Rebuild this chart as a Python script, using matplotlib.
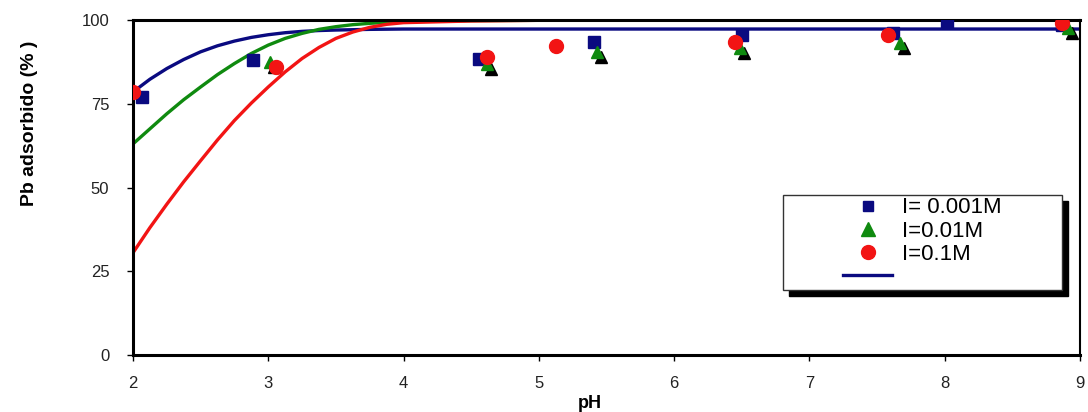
import matplotlib.pyplot as plt
import matplotlib.transforms as mtransforms
from matplotlib.patches import Rectangle
from matplotlib.lines import Line2D

## Data

# fitted curves
ph_fit = [2.0, 2.125, 2.25, 2.375, 2.5, 2.625, 2.75, 2.875, 3.0, 3.125, 3.25, 3.375,
          3.5, 3.625, 3.75, 3.875, 4.0, 4.5, 5.0, 6.0, 7.0, 8.0, 9.0]
fit_0001 = [78.5, 82.3, 85.5, 88.2, 90.5, 92.3, 93.7, 94.8, 95.6, 96.2, 96.6, 96.85,
            97.0, 97.1, 97.2, 97.25, 97.3, 97.3, 97.3, 97.3, 97.3, 97.3, 97.3]
fit_001 = [63.0, 67.5, 72.0, 76.2, 80.0, 83.7, 87.0, 90.0, 92.5, 94.5, 96.0, 97.2,
           98.0, 98.6, 99.0, 99.3, 99.5, 99.8, 99.9, 99.9, 99.9, 99.9, 99.9]
fit_01 = [30.5, 38.0, 45.0, 51.7, 58.0, 64.2, 70.0, 75.2, 80.0, 84.5, 88.5, 91.8,
          94.5, 96.4, 97.8, 98.7, 99.2, 99.7, 99.9, 99.9, 99.9, 99.9, 99.9]

# measured points
ph_0001 = [2.07, 2.89, 4.56, 5.41, 6.50, 7.62, 8.02, 8.87]
pb_0001 = [77.0, 88.0, 88.5, 93.5, 95.5, 96.2, 99.4, 98.5]
ph_001 = [3.01, 4.62, 5.43, 6.49, 7.67, 8.91]
pb_001 = [87.5, 87.0, 90.5, 91.5, 93.2, 97.5]
ph_01 = [2.0, 3.06, 4.62, 5.13, 6.45, 7.58, 8.87]
pb_01 = [78.5, 86.0, 89.0, 92.2, 93.4, 95.5, 99.0]

labels = ['I= 0.001M', 'I=0.01M', 'I=0.1M', '']
x_ticks = [2, 3, 4, 5, 6, 7, 8, 9]
y_ticks = [0, 25, 50, 75, 100]

## Colours
c_blue = '#0a0a80'
c_green = '#0f8a0f'
c_red = '#f21414'

plt.rcParams['font.family'] = ['Liberation Sans', 'DejaVu Sans']

fig = plt.figure(figsize=(10.88, 4.12), dpi=100)
ax = fig.add_axes([0.1222, 0.1383, 0.8704, 0.8132])

# curves
ax.plot(ph_fit, fit_0001, color=c_blue, lw=2.4, zorder=2)
ax.plot(ph_fit, fit_001, color=c_green, lw=2.4, zorder=2)
ax.plot(ph_fit, fit_01, color=c_red, lw=2.4, zorder=2)

# markers (triangles get a black drop shadow)
shadow = mtransforms.offset_copy(ax.transData, fig=fig, x=4, y=-5, units='dots')
ax.plot(ph_0001, pb_0001, 's', color=c_blue, ms=8.5, ls='none', zorder=3)
ax.plot(ph_001, pb_001, '^', color='black', ms=9, ls='none', transform=shadow, zorder=4)
ax.plot(ph_001, pb_001, '^', color=c_green, ms=9, ls='none', zorder=5)
ax.plot(ph_01, pb_01, 'o', color=c_red, ms=10, ls='none', zorder=6)

ax.set_xlim(2, 9)
ax.set_ylim(0, 100)
ax.set_xticks(x_ticks)
ax.set_yticks(y_ticks)
ax.tick_params(axis='x', direction='out', length=4, width=1, pad=11, labelsize=12,
               labelcolor='#222222')
ax.tick_params(axis='y', direction='out', length=4, width=1, pad=13, labelsize=12,
               labelcolor='#222222')
for s in ax.spines.values():
    s.set_linewidth(2.2)
ax.spines['right'].set_linewidth(1.5)

fig.text(30 / 1088, 1 - 123 / 412, 'Pb adsorbido (% )', rotation=90, fontsize=14,
         fontweight='bold', ha='center', va='center')
fig.text(590 / 1088, 1 - 403 / 412, 'pH', fontsize=13, fontweight='bold',
         ha='center', va='center')

# legend box with black shadow
fig.patches.append(Rectangle((789 / 1088, 1 - 296 / 412), 279 / 1088, 95 / 412,
                             transform=fig.transFigure, facecolor='black',
                             edgecolor='black', zorder=10))
fig.patches.append(Rectangle((783 / 1088, 1 - 290 / 412), 279 / 1088, 95 / 412,
                             transform=fig.transFigure, facecolor='white',
                             edgecolor='#333333', lw=1, zorder=11))

handles = [
    Line2D([], [], marker='s', color=c_blue, ms=7.5, ls='none'),
    Line2D([], [], marker='^', color=c_green, ms=10, ls='none'),
    Line2D([], [], marker='o', color=c_red, ms=10, ls='none'),
    Line2D([], [], color=c_blue, lw=2.4),
]
leg = fig.legend(handles, labels, loc='upper left',
                 bbox_to_anchor=(830 / 1088, 1 - 184 / 412),
                 frameon=False, fontsize=16, handlelength=2.2,
                 handletextpad=0.45, labelspacing=0.1, borderpad=0.1)
leg.set_zorder(12)

fig.savefig('out.png', dpi=100)
